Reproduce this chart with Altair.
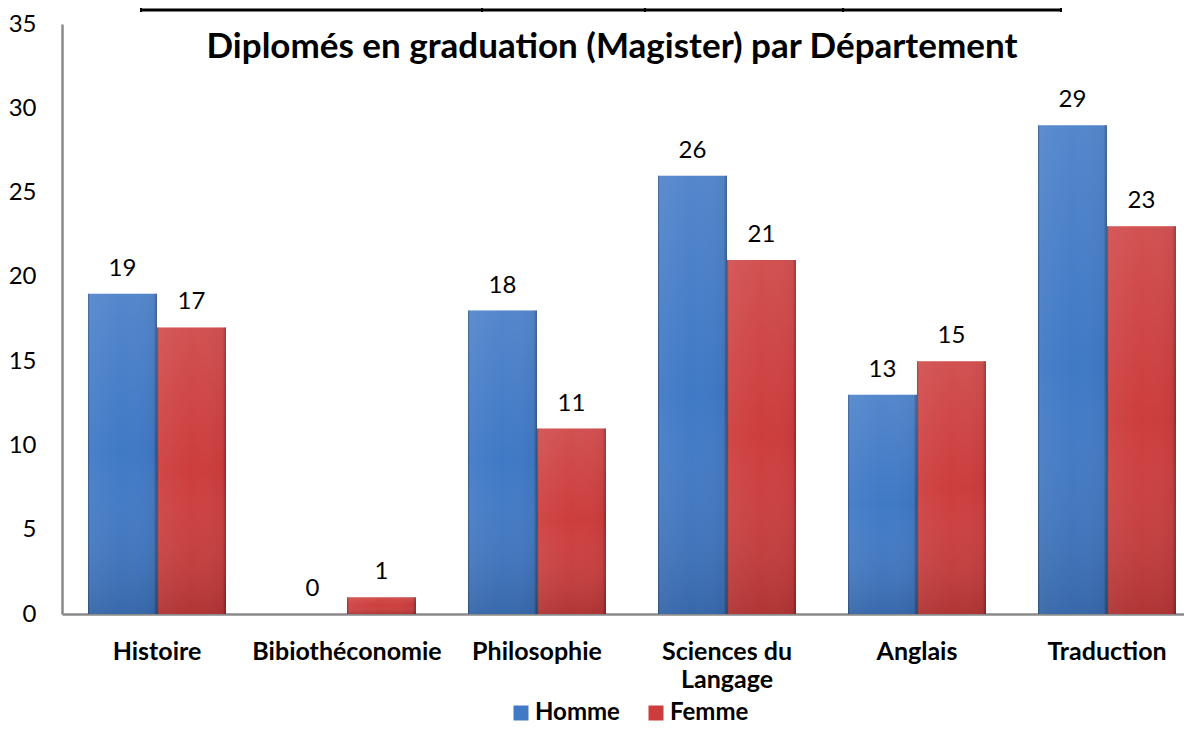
import altair as alt
import pandas as pd

departements = ["Histoire", "Bibiothéconomie", "Philosophie", "Sciences du Langage", "Anglais", "Traduction"]
homme = [19, 0, 18, 26, 13, 29]
femme = [17, 1, 11, 21, 15, 23]
series = ["Homme", "Femme"]
colors = ["#4079C6", "#CD3D3D"]
title_text = "Diplomés en graduation (Magister) par Département"

rows = []
for d, h, f in zip(departements, homme, femme):
    rows.append({"dep": d, "sexe": "Homme", "val": h})
    rows.append({"dep": d, "sexe": "Femme", "val": f})
df = pd.DataFrame(rows)

FONT = "Lato"

x_enc = alt.X("dep:N", sort=departements, title=None,
              scale=alt.Scale(range=[0, 1140], paddingInner=0.274, paddingOuter=0.137),
              axis=alt.Axis(labelAngle=0, labelFont=FONT, labelFontSize=25, labelFontWeight="bold",
                            labelColor="black", labelPadding=25, labelLineHeight=28, labelLimit=400,
                            ticks=False, domainColor="#8a8a8a", domainWidth=2.5,
                            labelExpr="datum.value == 'Sciences du Langage' ? ['Sciences du', 'Langage'] : datum.value"))
xo_enc = alt.XOffset("sexe:N", sort=series, scale=alt.Scale(domain=series, paddingInner=0, paddingOuter=0))
y_enc = alt.Y("val:Q", title=None,
              scale=alt.Scale(domain=[0, 35], nice=False),
              axis=alt.Axis(values=[0, 5, 10, 15, 20, 25, 30, 35], grid=False, ticks=False,
                            labelFont=FONT, labelFontSize=24, labelColor="black", labelPadding=26,
                            domainColor="#8a8a8a", domainWidth=2.5))

base = alt.Chart(df)

bars = base.mark_bar(size=69).encode(
    x=x_enc, xOffset=xo_enc, y=y_enc,
    color=alt.Color("sexe:N", sort=series,
                    scale=alt.Scale(domain=series, range=colors),
                    legend=alt.Legend(title=None, orient="none", legendX=447, legendY=677,
                                      direction="horizontal", symbolType="square", symbolSize=225,
                                      symbolStrokeWidth=0, labelFont=FONT, labelFontSize=24,
                                      labelFontWeight="bold", labelColor="black", labelOffset=2,
                                      columnPadding=24, padding=0)),
)

shade_h = base.mark_bar(size=69, fill=alt.Gradient(
    gradient="linear", x1=0, x2=1, y1=0, y2=0,
    stops=[alt.GradientStop(offset=0, color="rgba(0,0,0,0.32)"),
           alt.GradientStop(offset=0.05, color="rgba(255,255,255,0.05)"),
           alt.GradientStop(offset=0.5, color="rgba(255,255,255,0.0)"),
           alt.GradientStop(offset=0.95, color="rgba(0,0,0,0.04)"),
           alt.GradientStop(offset=1, color="rgba(0,0,0,0.34)")])).encode(
    x=x_enc, xOffset=xo_enc, y=y_enc)

shade_v = base.mark_bar(size=69, fill=alt.Gradient(
    gradient="linear", x1=0, x2=0, y1=0, y2=1,
    stops=[alt.GradientStop(offset=0, color="rgba(255,255,255,0.10)"),
           alt.GradientStop(offset=0.5, color="rgba(255,255,255,0.0)"),
           alt.GradientStop(offset=1, color="rgba(0,0,0,0.14)")])).encode(
    x=x_enc, xOffset=xo_enc, y=y_enc)

labels = base.mark_text(font=FONT, fontSize=24, color="black", baseline="alphabetic", dy=-18).encode(
    x=x_enc, xOffset=xo_enc, y=y_enc, text="val:Q")

title = alt.Chart(pd.DataFrame({"t": [title_text]})).mark_text(
    font=FONT, fontSize=35, fontWeight="bold", color="black", baseline="alphabetic", align="center"
).encode(text="t:N", x=alt.value(550), y=alt.value(34))

# scanned table border fragment at the top edge
deco = [alt.Chart(pd.DataFrame({"a": [0]})).mark_rule(color="black", strokeWidth=3).encode(
    x=alt.value(79), x2=alt.value(999), y=alt.value(-14))]
for xv in [79, 420, 583, 781, 999]:
    deco.append(alt.Chart(pd.DataFrame({"a": [0]})).mark_rule(color="black", strokeWidth=2).encode(
        x=alt.value(xv), y=alt.value(-16), y2=alt.value(-12)))

chart = alt.layer(bars, shade_h, shade_v, labels, title, *deco).properties(
    width=1122, height=590,
    autosize=alt.AutoSizeParams(type="none"),
    padding={"left": 54, "top": 16, "right": 0, "bottom": 111},
).configure_view(stroke=None)

chart.save("out.html", embed_options={"renderer": "svg", "actions": False})
